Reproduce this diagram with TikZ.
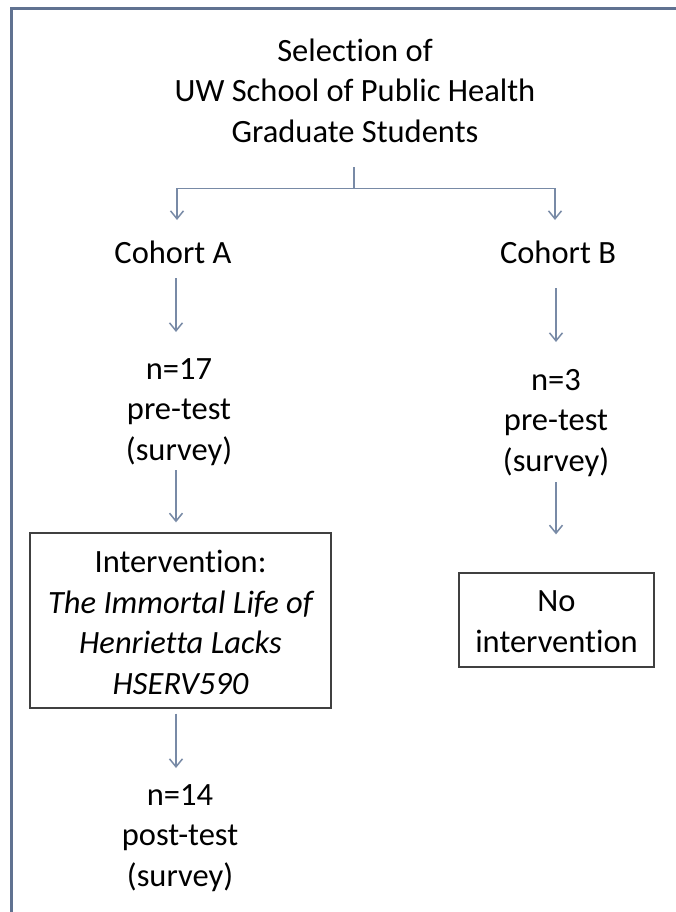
\documentclass[tikz,border=0pt]{standalone}
\usepackage{fontspec}
\setmainfont{Carlito}[Ligatures=NoCommon]
\usetikzlibrary{arrows.meta,calc}
\definecolor{framec}{RGB}{96,114,145}
\definecolor{linec}{RGB}{120,138,166}
\definecolor{boxc}{RGB}{64,64,64}
\newcommand\vst{\rule[-9pt]{0pt}{35pt}}
\tikzset{
  txt/.style={inner sep=0pt, align=center, anchor=north, font=\fontsize{32.5}{40.5}\selectfont},
  boxnode/.style={draw=boxc, line width=1.3pt, inner sep=0pt, align=center, font=\fontsize{32.5}{40.5}\selectfont},
  ln/.style={draw=linec, line width=1.5pt},
  arr/.style={draw=linec, line width=1.5pt, -{Straight Barb[length=8pt,width=13pt,line width=1.5pt]}},
}
\begin{document}
\begin{tikzpicture}[x=1pt,y=-1pt]
\useasboundingbox (0,0) rectangle (675,912);
\fill[white] (0,0) rectangle (675,912);
% outer frame (cut off at right and bottom)
\draw[draw=framec, line width=2.6pt] (11.5,930) -- (11.5,8.5) -- (690,8.5);

\coordinate (colA) at (176,0);
\coordinate (colB) at (556,0);

\node[txt] (title) at (355,35) {Selection of\vst\\UW School of Public Health\vst\\Graduate Students\vst};
\node[txt] (cohA) at (173,237) {Cohort A\vst};
\node[txt] (cohB) at (558,237) {Cohort B\vst};
\node[txt] (n17) at (179,353) {n=17\vst\\pre-test\vst\\(survey)\vst};
\node[txt] (n3) at (556,364) {n=3\vst\\pre-test\vst\\(survey)\vst};
\node[boxnode, minimum width=301pt, minimum height=175pt] (intv) at (180.5,620.5)
  {\rule{0pt}{26.5pt}Intervention:\\\itshape The Immortal Life of\\\itshape Henrietta Lacks\\\itshape HSERV590};
\node[boxnode, minimum width=195pt, minimum height=94pt] (noint) at (556.5,620)
  {\rule{0pt}{24pt}No\\intervention};
\node[txt] (n14) at (180,779) {n=14\vst\\post-test\vst\\(survey)\vst};

% branching
\coordinate (br) at ($(title.south)+(-1,37)$);
\draw[ln] ($(title.south)+(-1,16)$) -- (br);
\draw[arr] (br) -| ($(cohA.north -| colA)+(1,-17)$);
\draw[arr] (br) -| ($(cohB.north -| colB)+(-1,-17)$);

% column A
\draw[arr] ($(cohA.south -| colA)+(0,6)$) -- ($(n17.north -| colA)+(0,-21)$);
\draw[arr] ($(n17.south -| colA)+(0,1)$) -- ($(intv.north -| colA)+(0,-10)$);
\draw[arr] ($(intv.south -| colA)+(0,5)$) -- ($(n14.north -| colA)+(0,-11)$);

% column B
\draw[arr] ($(cohB.south -| colB)+(0,16)$) -- ($(n3.north -| colB)+(0,-22)$);
\draw[arr] ($(n3.south -| colB)+(0,2)$) -- ($(noint.north -| colB)+(0,-38)$);
\end{tikzpicture}
\end{document}
